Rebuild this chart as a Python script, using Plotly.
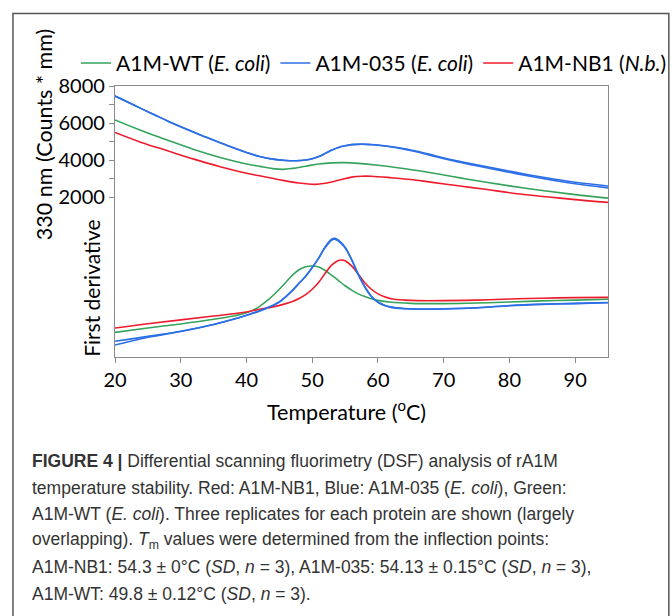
import plotly.graph_objects as go

# ---------------- data ----------------
# Fluorescence at 330 nm (Counts * mm)
t_blue_f = [20, 22, 24, 26, 28, 30, 32, 34, 36, 38, 40, 42, 44, 46, 47.5, 49, 50, 51, 52, 53, 54, 55, 56,
            57.5, 59, 60, 63, 66, 69, 72, 75, 78, 81, 84, 87, 90, 95]
blue_f_rep1 = [7460, 7120, 6780, 6450, 6120, 5810, 5510, 5220, 4940, 4670, 4420, 4200, 4060, 3990, 3975, 4010,
               4080, 4200, 4370, 4550, 4690, 4780, 4840, 4870, 4850, 4825, 4690, 4480, 4220, 3975, 3755, 3550,
               3345, 3155, 2975, 2810, 2610]
blue_f_rep2 = [7460, 7120, 6780, 6450, 6120, 5810, 5510, 5220, 4940, 4670, 4420, 4200, 4060, 3990, 3975, 4010,
               4080, 4200, 4370, 4550, 4690, 4780, 4840, 4860, 4835, 4805, 4660, 4440, 4175, 3925, 3700, 3490,
               3280, 3085, 2900, 2730, 2510]

t_green_f = [20, 24, 28, 32, 36, 40, 42, 44, 45.5, 47, 49, 51, 53, 55, 57, 60, 63, 66, 69, 72.5, 76, 80, 85, 90, 95]
green_f = [6170, 5600, 5080, 4580, 4150, 3800, 3670, 3550, 3510, 3560, 3680, 3800, 3860, 3870, 3830, 3730,
           3600, 3450, 3270, 3050, 2840, 2620, 2370, 2150, 1960]

t_red_f = [20, 24, 28, 32, 36, 40, 42, 45, 48, 50.5, 52, 54, 56, 57.5, 59, 62, 65, 68, 72.5, 76, 81.6, 86, 90, 95]
red_f = [5495, 4960, 4510, 4060, 3650, 3300, 3160, 2950, 2770, 2700, 2760, 2920, 3090, 3140, 3140, 3060, 2960,
         2820, 2610, 2450, 2180, 2020, 1880, 1730]

# First derivative (arbitrary units)
t_blue_d = [20, 22, 25, 30, 35, 38, 40, 42, 44, 45, 46, 47, 48, 49, 50, 51, 52, 53, 53.5, 54, 55, 56, 57, 58,
            59, 60, 61, 62, 64, 67, 70, 75, 80, 85, 90, 95]
blue_d_rep1 = [5.8, 6.5, 7.6, 9.5, 12.0, 13.9, 15.4, 17.0, 19.0, 20.3, 22.3, 24.6, 27.2, 29.8, 33.0, 36.5, 40.5,
               43.2, 43.4, 42.8, 40.3, 35.8, 30.4, 25.8, 22.3, 20.2, 19.0, 18.3, 17.8, 17.6, 17.7, 18.1, 18.9,
               19.4, 19.7, 20.0]
blue_d_rep2 = [4.4, 5.6, 7.3, 9.4, 12.0, 13.9, 15.4, 17.0, 19.0, 20.3, 22.3, 24.6, 27.2, 29.8, 33.0, 36.6, 40.8,
               43.6, 43.8, 43.1, 40.5, 36.0, 30.6, 26.0, 22.4, 20.3, 19.1, 18.4, 17.9, 17.7, 17.8, 18.2, 19.0,
               19.5, 19.8, 20.1]

t_green_d = [20, 25, 30, 35, 38, 40, 41, 42, 43, 44, 45, 46, 47, 48, 49, 50, 51, 52, 53, 54, 55, 56, 57, 58, 59,
             60, 62, 65, 70, 75, 80, 85, 90, 95]
green_d = [9.1, 10.7, 12.2, 13.9, 15.1, 16.3, 17.3, 18.7, 20.5, 22.6, 25.0, 27.6, 30.2, 32.2, 33.3, 33.6, 33.2,
           31.9, 30.1, 28.2, 26.3, 24.7, 23.3, 22.3, 21.5, 20.9, 20.2, 19.8, 19.7, 19.9, 20.3, 20.7, 21.0, 21.3]

t_red_d = [20, 25, 30, 35, 40, 42, 44, 46, 47, 48, 49, 50, 51, 52, 53, 54, 54.5, 55, 56, 57, 58, 59, 60, 61, 62,
           64, 66, 70, 75, 80, 85, 90, 95]
red_d = [10.7, 12.3, 13.7, 15.1, 16.6, 17.6, 18.5, 19.7, 20.5, 21.6, 23.0, 25.0, 27.6, 31.0, 34.0, 35.6, 35.8,
         35.5, 33.6, 30.6, 27.4, 25.0, 23.3, 22.2, 21.5, 21.0, 20.8, 20.8, 21.0, 21.4, 21.7, 21.9, 22.0]

x_ticks = [20, 30, 40, 50, 60, 70, 80, 90]
y_ticks = [2000, 4000, 6000, 8000]
y_minor = [3000, 5000, 7000]

legend_names = ["A1M-WT (<i>E. coli</i>)", "A1M-035 (<i>E. coli</i>)", "A1M-NB1 (<i>N.b.</i>)"]

caption_lines = [
    "<b>FIGURE 4 |</b> Differential scanning fluorimetry (DSF) analysis of rA1M",
    "temperature stability. Red: A1M-NB1, Blue: A1M-035 (<i>E. coli</i>), Green:",
    "A1M-WT (<i>E. coli</i>). Three replicates for each protein are shown (largely",
    "overlapping). <i>T</i><sub>m</sub> values were determined from the inflection points:",
    "A1M-NB1: 54.3 \u00b1 0\u00b0C (<i>SD</i>, <i>n</i> = 3), A1M-035: 54.13 \u00b1 0.15\u00b0C (<i>SD</i>, <i>n</i> = 3),",
    "A1M-WT: 49.8 \u00b1 0.12\u00b0C (<i>SD</i>, <i>n</i> = 3).",
]

# ---------------- styling ----------------
GREEN = "#35a35c"
BLUE = "#2c6fe6"
RED = "#ee1b2d"
LW = 1.6
FONT = "Lato"

W, H = 672, 616
L, TOP, PW, PH = 115, 85.7, 492.7, 271.6


def px(x):
    return (x - L) / PW


def py(y):
    return (TOP + PH - y) / PH


fig = go.Figure()

# fluorescence curves (left axis)
fig.add_trace(go.Scatter(x=t_green_f, y=green_f, mode="lines", line=dict(color=GREEN, width=LW, shape="spline"),
                         name=legend_names[0], legendgroup="wt"))
fig.add_trace(go.Scatter(x=t_blue_f, y=blue_f_rep1, mode="lines", line=dict(color=BLUE, width=LW, shape="spline"),
                         name=legend_names[1], legendgroup="035"))
fig.add_trace(go.Scatter(x=t_red_f, y=red_f, mode="lines", line=dict(color=RED, width=LW, shape="spline"),
                         name=legend_names[2], legendgroup="nb1"))
fig.add_trace(go.Scatter(x=t_blue_f, y=blue_f_rep2, mode="lines", line=dict(color=BLUE, width=LW, shape="spline"),
                         showlegend=False, legendgroup="035"))

# derivative curves (hidden overlay axis)
fig.add_trace(go.Scatter(x=t_green_d, y=green_d, yaxis="y2", mode="lines",
                         line=dict(color=GREEN, width=LW, shape="spline"), showlegend=False, legendgroup="wt"))
fig.add_trace(go.Scatter(x=t_red_d, y=red_d, yaxis="y2", mode="lines",
                         line=dict(color=RED, width=LW, shape="spline"), showlegend=False, legendgroup="nb1"))
fig.add_trace(go.Scatter(x=t_blue_d, y=blue_d_rep1, yaxis="y2", mode="lines",
                         line=dict(color=BLUE, width=LW, shape="spline"), showlegend=False, legendgroup="035"))
fig.add_trace(go.Scatter(x=t_blue_d, y=blue_d_rep2, yaxis="y2", mode="lines",
                         line=dict(color=BLUE, width=LW, shape="spline"), showlegend=False, legendgroup="035"))

axis_col = "#8a8a8a"
fig.update_layout(
    width=W, height=H, autosize=False,
    paper_bgcolor="white", plot_bgcolor="white",
    margin=dict(l=L, r=W - L - PW, t=TOP, b=H - TOP - PH, pad=0),
    font=dict(family=FONT, size=20, color="black"),
    xaxis=dict(range=[20, 95], tickvals=x_ticks, ticks="outside", ticklen=5, tickcolor=axis_col,
               showline=True, linecolor=axis_col, linewidth=1.2, mirror=True, showgrid=False, zeroline=False,
               tickfont=dict(family=FONT, size=20)),
    yaxis=dict(range=[-6600, 8000], tickvals=y_ticks, ticks="outside", ticklen=5, tickcolor=axis_col,
               showline=True, linecolor=axis_col, linewidth=1.2, mirror=True, showgrid=False, zeroline=False,
               tickfont=dict(family=FONT, size=20),
               minor=dict(tickvals=y_minor, ticks="outside", ticklen=5, tickcolor=axis_col, showgrid=False)),
    yaxis2=dict(range=[0, 100], overlaying="y", visible=False),
    showlegend=True,
    legend=dict(orientation="h", x=px(78), xanchor="left", y=py(63), yanchor="middle",
                font=dict(family=FONT, size=21), itemwidth=30, tracegroupgap=0,
                bgcolor="rgba(0,0,0,0)"),
)

# axis titles
fig.add_annotation(text="330 nm (Counts * mm)", x=px(44), y=py(134), xref="paper", yref="paper",
                   xanchor="center", yanchor="middle",
                   textangle=-90, showarrow=False, font=dict(family=FONT, size=21.5))
fig.add_annotation(text="First derivative", x=px(92), y=py(288), xref="paper", yref="paper",
                   xanchor="center", yanchor="middle",
                   textangle=-90, showarrow=False, font=dict(family=FONT, size=21))
fig.add_annotation(text="Temperature (<sup>o</sup>C)", x=px(346), y=py(411), xref="paper", yref="paper",
                   xanchor="center", yanchor="middle",
                   showarrow=False, font=dict(family=FONT, size=21.5))

# caption
for i, line in enumerate(caption_lines):
    fig.add_annotation(text=line, x=px(30), y=py(462 + i * 26.5), xref="paper", yref="paper",
                       xanchor="left", yanchor="middle", showarrow=False, align="left",
                       font=dict(family="Liberation Sans", size=17.5, color="#333333"))

# outer frame
fig.add_shape(type="rect", xref="paper", yref="paper", x0=px(13), x1=px(668.5), y0=py(640), y1=py(13),
              line=dict(color="#555555", width=1.5), fillcolor="rgba(0,0,0,0)", layer="below")

fig.write_html("out.html", config={"displayModeBar": False},
               post_script="document.body.style.margin='0px';document.body.style.overflow='hidden';")
